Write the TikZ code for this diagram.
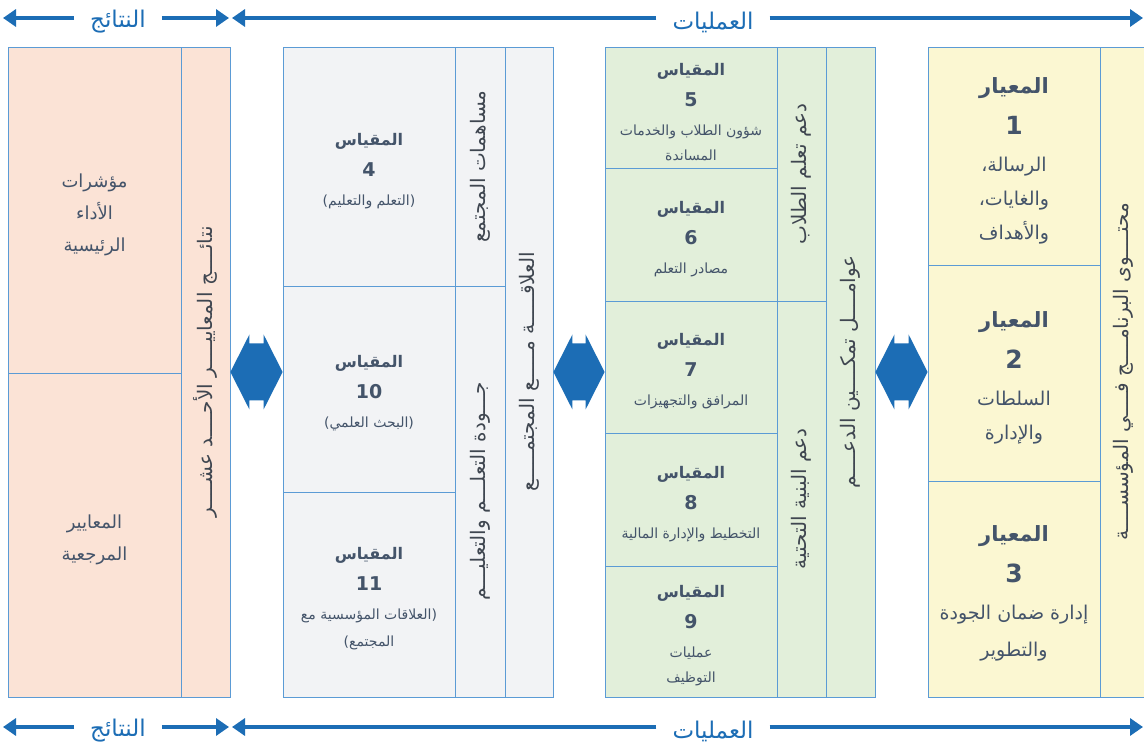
\documentclass[tikz,border=0pt]{standalone}
\usepackage{fontspec}
\usetikzlibrary{arrows.meta,calc}
\TeXXeTstate=1
\newfontfamily\arabicfont[Script=Arabic]{DejaVu Sans}
\newcommand\RL[1]{\beginR #1\endR}
\definecolor{bordc}{HTML}{5B9BD5}
\definecolor{peach}{HTML}{FBE3D6}
\definecolor{greyc}{HTML}{F2F3F5}
\definecolor{greenc}{HTML}{E2EFDA}
\definecolor{yellc}{HTML}{FBF7D2}
\definecolor{txtc}{HTML}{44546A}
\definecolor{vtxt}{HTML}{3F4650}
\definecolor{bluec}{HTML}{1C6DB5}
% box: name, x1, y1, x2, y2, style
\newcommand\cellbox[6]{\node[cellst,#6,minimum width={(#4-#2)*1pt},minimum height={(#5-#3)*1pt}] (#1) at ({(#2+#4)/2},{(#3+#5)/2}) {};}
% text in a box: box name, style, text
\newcommand\celltext[3]{\node[celltx,#2] (#1t) at ([yshift=-4.5pt]#1.center) {#3};}
\newcommand\hdrB[1]{{\bfseries\fontsize{16}{16}\selectfont\RL{#1}}}
\newcommand\numB[1]{{\bfseries\fontsize{19}{19}\selectfont #1}}
\newcommand\subB[1]{{\fontsize{14}{14}\selectfont\RL{#1}}}
\newcommand\hdrY[1]{{\bfseries\fontsize{21}{21}\selectfont\RL{#1}}}
\newcommand\numY[1]{{\bfseries\fontsize{25}{25}\selectfont #1}}
\newcommand\subY[1]{{\fontsize{19}{19}\selectfont\RL{#1}}}
\newcommand\dblarr[2]{\fill[bluec] (#1) -- ++(19,-37.5) -- ++(0,9) -- ($(#2)+(-19,-28.5)$) -- ++(0,-9) -- (#2) -- ++(-19,37.5) -- ++(0,-9) -- ($(#1)+(19,28.5)$) -- ++(0,9) -- cycle;}
\begin{document}
\begin{tikzpicture}[x=1pt,y=-1pt,
  cellst/.style={draw=bordc,line width=0.8pt,inner sep=0pt},
  celltx/.style={inner sep=0pt,align=center,text=txtc},
  c1/.style={fill=peach},
  c2/.style={fill=greyc},
  c3/.style={fill=greenc},
  c4/.style={fill=yellc},
  t1/.style={font=\arabicfont\fontsize{18}{32}\selectfont},
  t2/.style={font=\arabicfont\fontsize{12}{29}\selectfont},
  t4/.style={font=\arabicfont\fontsize{15}{37}\selectfont},
  vt/.style={rotate=90,text=vtxt,font=\arabicfont\fontsize{20}{20}\selectfont,inner sep=0pt},
  bann/.style={text=bluec,font=\arabicfont\fontsize{23}{23}\selectfont,inner xsep=16pt,inner ysep=2pt},
  barr/.style={draw=bluec,line width=4pt,-{Triangle[length=13pt,width=17pt]}}]
\fill[white] (0,0) rectangle (1144,743);
\useasboundingbox (0,0) rectangle (1144,743);
\clip (0,0) rectangle (1144,743);

% column 1
\cellbox{k1}{8}{47}{181}{373}{c1}
\cellbox{k2}{8}{373}{181}{697}{c1}
\cellbox{k3}{181}{47}{230}{697}{c1}
\celltext{k1}{t1}{\RL{مؤشرات}\\\RL{الأداء}\\\RL{الرئيسية}}
\celltext{k2}{t1}{\RL{المعايير}\\\RL{المرجعية}}
\node[vt] (k3t) at (k3.center) {\RL{نتائــــج المعاييــــر الأحــــد عشــــر}};

% column 2
\cellbox{m4}{283}{47}{455}{286}{c2}
\cellbox{m10}{283}{286}{455}{492}{c2}
\cellbox{m11}{283}{492}{455}{697}{c2}
\cellbox{g1}{455}{47}{505}{286}{c2}
\cellbox{g2}{455}{286}{505}{697}{c2}
\cellbox{g3}{505}{47}{553}{697}{c2}
\celltext{m4}{t2}{\hdrB{المقياس}\\[2pt]\numB{4}\\\subB{(التعلم والتعليم)}}
\celltext{m10}{t2}{\hdrB{المقياس}\\[2pt]\numB{10}\\\subB{(البحث العلمي)}}
\celltext{m11}{t2}{\hdrB{المقياس}\\[2pt]\numB{11}\\\subB{(العلاقات المؤسسية مع}\\[-2pt]\subB{المجتمع)}}
\node[vt] (g1t) at (g1.center) {\RL{مساهمات المجتمع}};
\node[vt] (g2t) at (g2.center) {\RL{جـــودة التعلـــم والتعليـــم}};
\node[vt] (g3t) at (g3.center) {\RL{العلاقـــــة مـــــع المجتمـــــع}};

% column 3
\cellbox{s5}{605}{47}{777}{168}{c3}
\cellbox{s6}{605}{168}{777}{301}{c3}
\cellbox{s7}{605}{301}{777}{433}{c3}
\cellbox{s8}{605}{433}{777}{566}{c3}
\cellbox{s9}{605}{566}{777}{697}{c3}
\cellbox{d1}{777}{47}{826}{301}{c3}
\cellbox{d2}{777}{301}{826}{697}{c3}
\cellbox{d3}{826}{47}{875}{697}{c3}
\celltext{s5}{t2}{\hdrB{المقياس}\\[2pt]\numB{5}\\\subB{شؤون الطلاب والخدمات}\\[-4pt]\subB{المساندة}}
\celltext{s6}{t2}{\hdrB{المقياس}\\[2pt]\numB{6}\\\subB{مصادر التعلم}}
\celltext{s7}{t2}{\hdrB{المقياس}\\[2pt]\numB{7}\\\subB{المرافق والتجهيزات}}
\celltext{s8}{t2}{\hdrB{المقياس}\\[2pt]\numB{8}\\\subB{التخطيط والإدارة المالية}}
\celltext{s9}{t2}{\hdrB{المقياس}\\[2pt]\numB{9}\\\subB{عمليات}\\[-4pt]\subB{التوظيف}}
\node[vt] (d1t) at (d1.center) {\RL{دعم تعلم الطلاب}};
\node[vt] (d2t) at (d2.center) {\RL{دعم البنية التحتية}};
\node[vt] (d3t) at (d3.center) {\RL{عوامــــل تمكــــين الدعــــم}};

% column 4
\cellbox{e1}{928}{47}{1100}{265}{c4}
\cellbox{e2}{928}{265}{1100}{481}{c4}
\cellbox{e3}{928}{481}{1100}{697}{c4}
\cellbox{p1}{1100}{47}{1148}{697}{c4}
\celltext{e1}{t4}{\hdrY{المعيار}\\[4pt]\numY{1}\\\subY{الرسالة،}\\[-3pt]\subY{والغايات،}\\[-3pt]\subY{والأهداف}}
\celltext{e2}{t4}{\hdrY{المعيار}\\[4pt]\numY{2}\\\subY{السلطات}\\[-3pt]\subY{والإدارة}}
\celltext{e3}{t4}{\hdrY{المعيار}\\[4pt]\numY{3}\\\subY{إدارة ضمان الجودة}\\\subY{والتطوير}}
\node[vt] (p1t) at ([xshift=-1pt]p1.center) {\RL{محتــــوى البرنامــــج فــــي المؤسســــة}};

% double arrows
\coordinate (a1L) at (k3.east);  \coordinate (a1R) at (k3.east -| m4.west);
\coordinate (a2L) at (g3.east);  \coordinate (a2R) at (g3.east -| s7.west);
\coordinate (a3L) at (d3.east);  \coordinate (a3R) at (d3.east -| e2.west);
\dblarr{a1L}{a1R}
\dblarr{a2L}{a2R}
\dblarr{a3L}{a3R}

% banners
\foreach \yy/\nm in {18/t,727/b}{
  \node[bann] (\nm N) at (118,\yy+4) {\RL{النتائج}};
  \node[bann] (\nm A) at (713,\yy+4) {\RL{العمليات}};
  \coordinate (\nm L) at (3,\yy);
  \coordinate (\nm M1) at (229,\yy);
  \coordinate (\nm M2) at (232,\yy);
  \coordinate (\nm R) at (1143,\yy);
  \draw[barr] (\nm N.west |- \nm L) -- (\nm L);
  \draw[barr] (\nm N.east |- \nm L) -- (\nm M1);
  \draw[barr] (\nm A.west |- \nm L) -- (\nm M2);
  \draw[barr] (\nm A.east |- \nm L) -- (\nm R);
}
\end{tikzpicture}
\end{document}
